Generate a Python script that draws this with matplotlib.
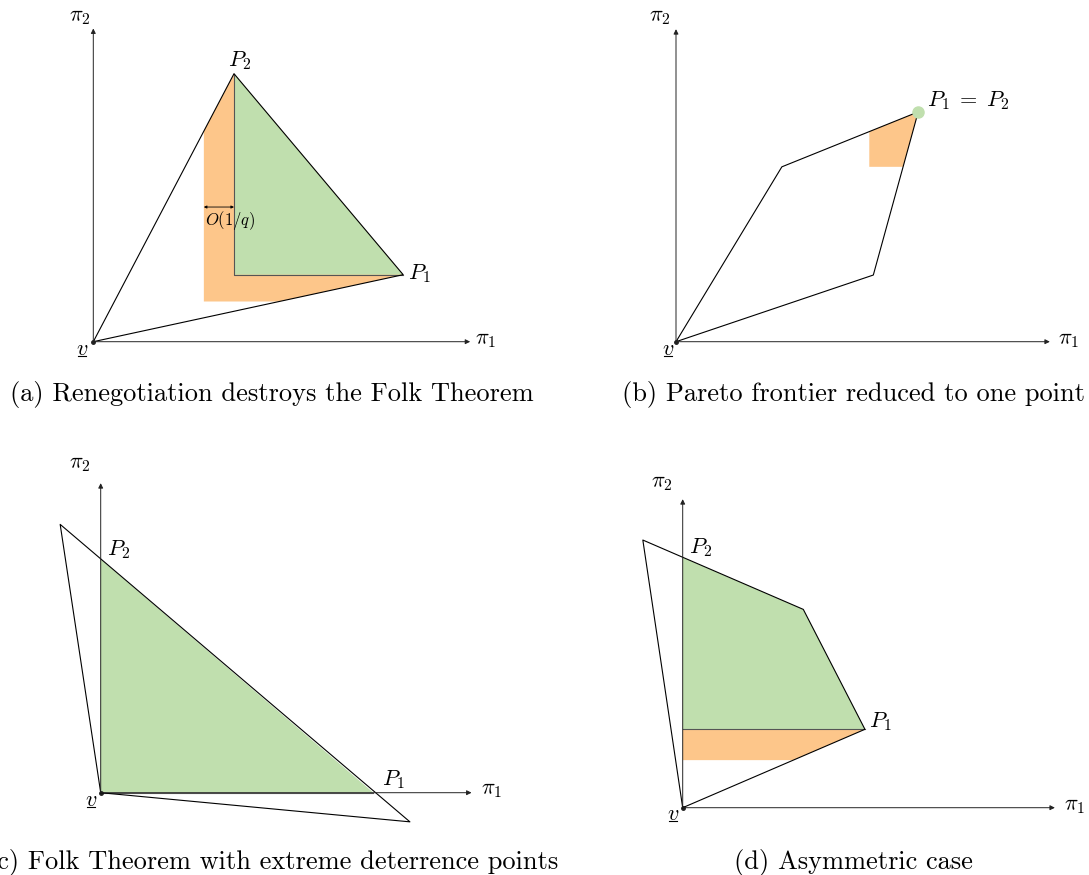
import matplotlib.pyplot as plt

plt.rcParams['mathtext.fontset'] = 'cm'
plt.rcParams['font.family'] = 'cmr10'

W, H = 1089, 875
S = 33.5  # pixels per unit

GREEN = '#c0dfae'
ORANGE = '#fdc68a'

# panel (a): renegotiation
a_P1 = (9.25, 2.0)
a_P2 = (4.2, 8.0)
a_cut = (3.3, 1.2)
a_axes = (11.25, 9.35)

# panel (b): pareto frontier one point
b_upper = (3.16, 5.22)
b_P = (7.23, 6.86)
b_lower = (5.89, 1.99)
b_cut = (5.77, 5.22)
b_axes = (11.16, 9.33)

# panel (c): extreme deterrence
c_left = (-1.21, 8.01)
c_right = (9.23, -0.87)
c_P2 = (0.0, 6.97)
c_P1 = (8.14, 0.0)
c_axes = (11.07, 9.24)

# panel (d): asymmetric
d_left = (-1.19, 7.99)
d_P2 = (0.0, 7.47)
d_kink = (3.6, 5.92)
d_P1 = (5.44, 2.34)
d_cut_y = 1.42
d_axes = (11.11, 9.21)

captions = ['(a) Renegotiation destroys the Folk Theorem',
            '(b) Pareto frontier reduced to one point',
            '(c) Folk Theorem with extreme deterrence points',
            '(d) Asymmetric case']

fig = plt.figure(figsize=(W / 100, H / 100), dpi=100)


def make_ax(ox, oy):
    ax = fig.add_axes([0, 0, 1, 1])
    ax.set_xlim(-ox / S, (W - ox) / S)
    ax.set_ylim(-(H - oy) / S, oy / S)
    ax.axis('off')
    ax.patch.set_visible(False)
    return ax


def px(ox, oy, x, y):
    return (x - ox) / S, (oy - y) / S


def draw_axes(ax, ox, oy, ends, pi1, pi2, vpos):
    ax.annotate('', xy=(ends[0], 0), xytext=(0, 0),
                arrowprops=dict(arrowstyle='-|>', color='#222222', lw=0.7,
                                mutation_scale=7, shrinkA=0, shrinkB=0))
    ax.annotate('', xy=(0, ends[1]), xytext=(0, 0),
                arrowprops=dict(arrowstyle='-|>', color='#222222', lw=0.7,
                                mutation_scale=7, shrinkA=0, shrinkB=0))
    ax.plot([0], [0], 'o', color='#222222', ms=2.5)
    x, y = px(ox, oy, *pi1)
    ax.text(x, y, r'$\pi_1$', fontsize=16, ha='center', va='center')
    x, y = px(ox, oy, *pi2)
    ax.text(x, y, r'$\pi_2$', fontsize=16, ha='center', va='center')
    x, y = px(ox, oy, *vpos)
    ax.text(x, y, r'$v$', fontsize=16, ha='center', va='center')
    ax.plot([x - 4 / S, x + 4 / S], [y - 7 / S, y - 7 / S], color='black', lw=0.8)


def label(ax, ox, oy, pos, s, ha='center', size=16):
    x, y = px(ox, oy, *pos)
    ax.text(x, y, s, fontsize=size, ha=ha, va='center')


# ---- (a)
ox, oy = 93.3, 341.7
ax = make_ax(ox, oy)
yl = a_P2[1] / a_P2[0] * a_cut[0]
xb = a_P1[0] / a_P1[1] * a_cut[1]
ax.fill([a_cut[0], xb, a_P1[0], a_P2[0], a_cut[0]],
        [a_cut[1], a_cut[1], a_P1[1], a_P2[1], yl], color=ORANGE, lw=0)
ax.fill([a_P2[0], a_P1[0], a_P2[0]], [a_P1[1], a_P1[1], a_P2[1]], color=GREEN, lw=0)
ax.plot([a_P2[0], a_P2[0], a_P1[0]], [a_P2[1], a_P1[1], a_P1[1]], color='#555555', lw=0.8)
ax.plot([0, a_P2[0], a_P1[0], 0], [0, a_P2[1], a_P1[1], 0], color='black', lw=0.8)
draw_axes(ax, ox, oy, a_axes, (486, 340), (80, 17), (82, 349))
label(ax, ox, oy, (240, 61), r'$P_2$')
label(ax, ox, oy, (419, 274), r'$P_1$')
ya = 4.02
ax.annotate('', xy=(a_cut[0], ya), xytext=(a_P2[0], ya),
            arrowprops=dict(arrowstyle='<|-|>', color='black', lw=0.6,
                            mutation_scale=4, shrinkA=0, shrinkB=0))
label(ax, ox, oy, (230, 220), r'$O(1/q)$', size=12)

# ---- (b)
ox, oy = 676, 341.7
ax = make_ax(ox, oy)
t = (b_cut[1] - b_lower[1]) / (b_P[1] - b_lower[1])
xr = b_lower[0] + t * (b_P[0] - b_lower[0])
u = (b_cut[0] - b_upper[0]) / (b_P[0] - b_upper[0])
yt = b_upper[1] + u * (b_P[1] - b_upper[1])
ax.fill([b_cut[0], xr, b_P[0], b_cut[0]], [b_cut[1], b_cut[1], b_P[1], yt], color=ORANGE, lw=0)
ax.plot([0, b_upper[0], b_P[0], b_lower[0], 0], [0, b_upper[1], b_P[1], b_lower[1], 0],
        color='black', lw=0.8)
ax.plot([b_P[0]], [b_P[1]], 'o', color=GREEN, ms=8)
draw_axes(ax, ox, oy, b_axes, (1069, 340), (660, 17), (668, 349))
label(ax, ox, oy, (927, 101), r'$P_1\;=\;P_2$', ha='left')

# ---- (c)
ox, oy = 100.7, 792.7
ax = make_ax(ox, oy)
ax.fill([0, c_P1[0], c_P2[0]], [0, c_P1[1], c_P2[1]], color=GREEN, lw=0)
ax.plot([0, c_P1[0]], [0, 0], color='#555555', lw=0.8)
draw_axes(ax, ox, oy, c_axes, (492, 790), (80, 464), (91, 800))
ax.plot([0, c_left[0], c_right[0], 0], [0, c_left[1], c_right[1], 0], color='black', lw=0.8)
label(ax, ox, oy, (119, 550), r'$P_2$')
label(ax, ox, oy, (393, 780), r'$P_1$')

# ---- (d)
ox, oy = 682.7, 807.7
ax = make_ax(ox, oy)
xo = d_P1[0] / d_P1[1] * d_cut_y
ax.fill([0, xo, d_P1[0], 0], [d_cut_y, d_cut_y, d_P1[1], d_P1[1]], color=ORANGE, lw=0)
ax.fill([0, d_P1[0], d_kink[0], d_P2[0]], [d_P1[1], d_P1[1], d_kink[1], d_P2[1]], color=GREEN, lw=0)
ax.plot([0, d_P1[0]], [d_P1[1], d_P1[1]], color='#555555', lw=0.8)
draw_axes(ax, ox, oy, d_axes, (1075, 806), (662, 483), (673, 814))
ax.plot([0, d_left[0], d_kink[0], d_P1[0], 0], [0, d_left[1], d_kink[1], d_P1[1], 0],
        color='black', lw=0.8)
label(ax, ox, oy, (701, 548), r'$P_2$')
label(ax, ox, oy, (880, 722), r'$P_1$')

# captions
fig.text(271.5 / W, 1 - 395 / H, captions[0], fontsize=19, ha='center', va='center')
fig.text(622 / W, 1 - 395 / H, captions[1], fontsize=19, ha='left', va='center')
fig.text(558 / W, 1 - 862 / H, captions[2], fontsize=19, ha='right', va='center')
fig.text(853 / W, 1 - 862 / H, captions[3], fontsize=19, ha='center', va='center')

fig.savefig('out.png', dpi=100)
